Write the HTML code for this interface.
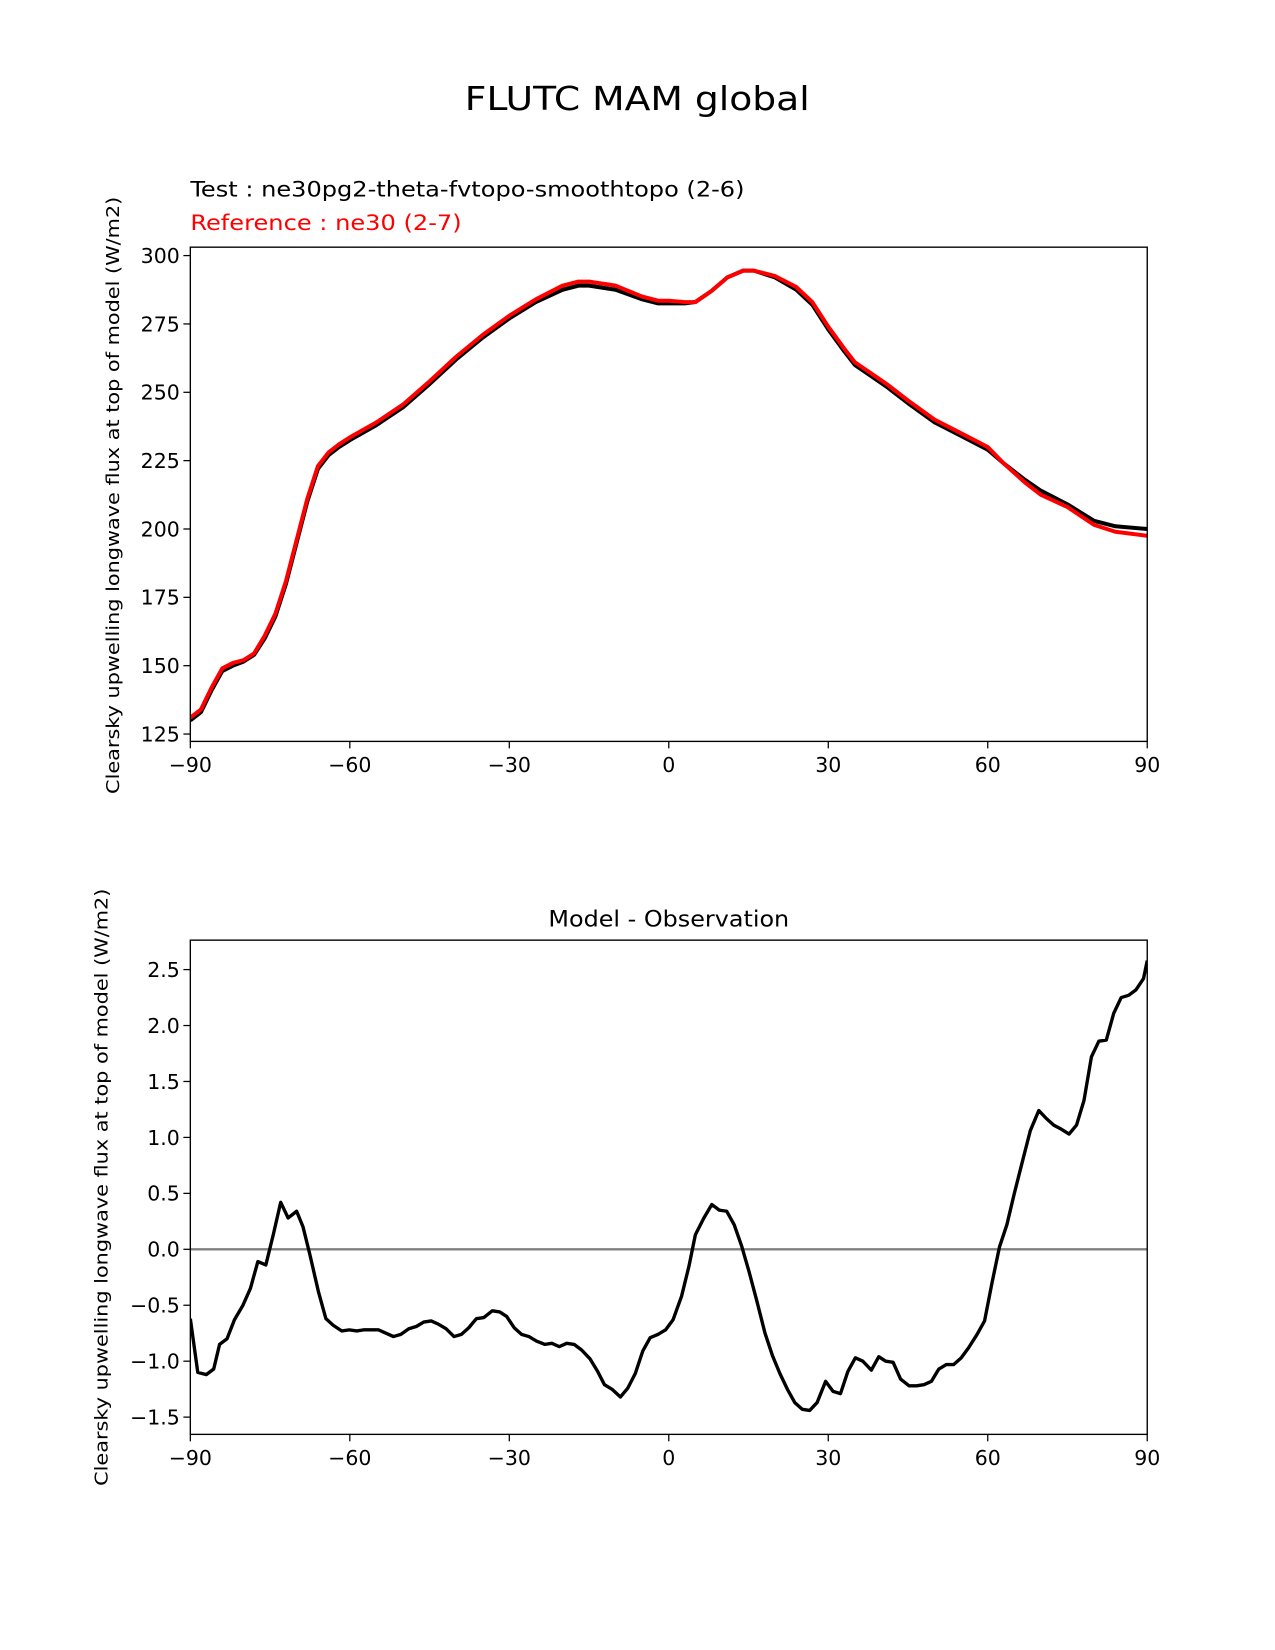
<!DOCTYPE html>
<html><head><meta charset="utf-8"><style>
html,body{margin:0;padding:0;background:#fff;}
svg{display:block;font-family:"DejaVu Sans","Liberation Sans",sans-serif;}
</style></head><body>
<svg id="fig" width="1275" height="1650" viewBox="0 0 1212.5 1569" xmlns="http://www.w3.org/2000/svg">
<rect width="1212.5" height="1569" fill="#fff"/>
<text x="606" y="104.6" font-size="31" text-anchor="middle" textLength="328" lengthAdjust="spacingAndGlyphs">FLUTC MAM global</text>
<text x="181" y="187" font-size="20" textLength="527" lengthAdjust="spacingAndGlyphs">Test : ne30pg2-theta-fvtopo-smoothtopo (2-6)</text>
<text x="181" y="218.7" font-size="20" fill="#ff0000" textLength="258" lengthAdjust="spacingAndGlyphs">Reference : ne30 (2-7)</text>
<text transform="translate(113,471) rotate(-90)" font-size="17" text-anchor="middle" textLength="568" lengthAdjust="spacingAndGlyphs">Clearsky upwelling longwave flux at top of model (W/m2)</text>
<text transform="translate(102,1129) rotate(-90)" font-size="17" text-anchor="middle" textLength="568" lengthAdjust="spacingAndGlyphs">Clearsky upwelling longwave flux at top of model (W/m2)</text>
<text x="636" y="881" font-size="21" text-anchor="middle" textLength="229" lengthAdjust="spacingAndGlyphs">Model - Observation</text>
<g id="top"></g>
<g id="bot"></g>
</svg>
<script>
const topLat = [-90,-88,-86,-84,-82,-80,-78,-76,-74,-72,-70,-68,-66,-64,-62,-60,-55,-50,-45,-40,-35,-30,-25,-20,-17,-15,-10,-5,-2,0,3,5,8,11,14,16,20,24,27,30,33,35,38,41,45,50,55,60,63,67,70,75,80,84,90];
const testVals = [130,133,141,148,150,151.5,154,160,168,180,195,210,222,227,230,232.5,238,244.5,253,262,270,277,283,287.5,289,289,287.5,284,282.5,282.5,282.5,283,287,292,294.5,294.5,292,287.5,282,273,265,260,256,252,246,239,234,229,224,218,214,209,203,201,200];
const refVals = [131,134,142,149,151,152,154.5,161,169,181,196,211,223,228,231,233.5,239,245.5,254,263,271,278,284,289,290.5,290.5,289,285,283.5,283.5,283,283,287,292,294.5,294.5,292.5,288.5,283,274,266,261,257,253,247,240,235,230,224,217,212.5,208,201.5,199,197.5];
const xTicks = [-90,-60,-30,0,30,60,90];
const topYTicks = [125,150,175,200,225,250,275,300];
const diffLat = [-90.0,-88.6,-87.0,-85.6,-84.5,-83.1,-81.7,-80.1,-78.7,-77.3,-75.8,-74.4,-73.0,-71.6,-70.0,-68.8,-67.5,-65.9,-64.5,-63.1,-61.5,-60.1,-58.7,-57.4,-54.6,-53.2,-51.8,-50.4,-48.9,-47.5,-46.1,-44.7,-43.3,-41.9,-40.4,-39.0,-37.6,-36.2,-34.8,-33.2,-31.8,-30.5,-29.1,-27.7,-26.3,-24.9,-23.3,-22.0,-20.6,-19.2,-17.8,-16.4,-14.8,-13.4,-12.1,-10.7,-9.1,-7.7,-6.3,-4.9,-3.5,-2.0,-0.6,0.8,2.4,3.8,5.0,6.6,8.1,9.5,10.9,12.3,13.7,15.1,16.5,18.1,19.5,20.9,22.3,23.7,25.1,26.5,27.9,29.5,30.9,32.3,33.7,35.1,36.5,38.1,39.5,40.8,42.2,43.6,45.2,46.6,48.0,49.4,50.8,52.2,53.6,55.0,56.4,58.0,59.4,60.8,62.2,63.6,65.0,66.6,68.0,69.6,71.0,72.4,73.6,75.3,76.7,78.1,79.5,80.9,82.3,83.7,85.1,86.5,87.9,89.3,90.0];
const diffVals = [-0.62,-1.1,-1.12,-1.07,-0.85,-0.8,-0.63,-0.5,-0.35,-0.11,-0.14,0.13,0.42,0.28,0.34,0.2,-0.05,-0.38,-0.62,-0.68,-0.73,-0.72,-0.73,-0.72,-0.72,-0.75,-0.78,-0.76,-0.71,-0.69,-0.65,-0.64,-0.67,-0.71,-0.78,-0.76,-0.7,-0.62,-0.61,-0.55,-0.56,-0.6,-0.7,-0.76,-0.78,-0.82,-0.85,-0.84,-0.87,-0.84,-0.85,-0.9,-0.98,-1.09,-1.21,-1.25,-1.32,-1.24,-1.11,-0.91,-0.79,-0.76,-0.72,-0.63,-0.42,-0.15,0.13,0.28,0.4,0.35,0.34,0.22,0.03,-0.2,-0.45,-0.75,-0.95,-1.11,-1.25,-1.37,-1.43,-1.44,-1.37,-1.18,-1.27,-1.29,-1.09,-0.97,-1.0,-1.08,-0.96,-1.0,-1.01,-1.16,-1.22,-1.22,-1.21,-1.18,-1.07,-1.03,-1.03,-0.97,-0.88,-0.76,-0.64,-0.3,0.02,0.22,0.5,0.8,1.06,1.24,1.17,1.11,1.08,1.03,1.11,1.33,1.72,1.86,1.87,2.11,2.25,2.27,2.32,2.42,2.58];
const botYTicks = [-1.5,-1.0,-0.5,0.0,0.5,1.0,1.5,2.0,2.5];
const botYLabels = ["\u22121.5","\u22121.0","\u22120.5","0.0","0.5","1.0","1.5","2.0","2.5"];

const NS='http://www.w3.org/2000/svg';
const L=181,R=1091;
function mk(parent,tag,attrs){const e=document.createElementNS(NS,tag);for(const k in attrs)e.setAttribute(k,attrs[k]);parent.appendChild(e);return e;}
function xs(v){return L+(v+90)/180*(R-L);}
function fmt(v){return v<0?'\u2212'+Math.abs(v):String(v);}

function panel(g,T,B,ys,yticks,ylabels,prefix){
  xTicks.forEach(t=>{
    const ln=mk(g,'line',{x1:xs(t),x2:xs(t),y1:B,y2:B+6.6,stroke:'#000','stroke-width':1.2});
    
    
    const tx=mk(g,'text',{x:xs(t),y:B+29,'font-size':19.5,'text-anchor':'middle'});
    tx.textContent=fmt(t);
    
    
  });
  yticks.forEach((t,i)=>{
    const y=ys(t);
    const ln=mk(g,'line',{x1:L-6.6,x2:L,y1:y,y2:y,stroke:'#000','stroke-width':1.2});
    
    
    const tx=mk(g,'text',{x:L-10,y:y+7,'font-size':19.5,'text-anchor':'end'});
    tx.textContent=ylabels[i];
    
    
  });
}
function line(g,lat,vals,ys,color,w,name){
  const d=lat.map((v,i)=>(i?'L':'M')+xs(v).toFixed(2)+','+ys(vals[i]).toFixed(2)).join('');
  const p=mk(g,'path',{d:d,fill:'none',stroke:color,'stroke-width':w,'stroke-linejoin':'round','stroke-linecap':'butt'});
  
  
}
const gt=document.getElementById('top');
const T1=235,B1=705;
const ys1=v=>243+(300-v)*2.6;
const clip1=mk(gt,'clipPath',{id:'c1'});mk(clip1,'rect',{x:L,y:T1,width:R-L,height:B1-T1});
const gl1=mk(gt,'g',{'clip-path':'url(#c1)'});
line(gl1,topLat,testVals,ys1,'#000',3.8,'test-line');
line(gl1,topLat,refVals,ys1,'#ff0000',3.8,'reference-line');
const f1=mk(gt,'rect',{x:L,y:T1,width:R-L,height:B1-T1,fill:'none',stroke:'#000','stroke-width':1.3});


panel(gt,T1,B1,ys1,topYTicks,topYTicks.map(String),'top');
const gb=document.getElementById('bot');
const T2=894,B2=1364;
const ys2=v=>1188-v*106.4;
const clip2=mk(gb,'clipPath',{id:'c2'});mk(clip2,'rect',{x:L,y:T2,width:R-L,height:B2-T2});
const gl2=mk(gb,'g',{'clip-path':'url(#c2)'});
const z=mk(gl2,'line',{x1:L,x2:R,y1:ys2(0),y2:ys2(0),stroke:'#808080','stroke-width':2.2});


line(gl2,diffLat,diffVals,ys2,'#000',3.2,'difference-line');
const f2=mk(gb,'rect',{x:L,y:T2,width:R-L,height:B2-T2,fill:'none',stroke:'#000','stroke-width':1.3});


panel(gb,T2,B2,ys2,botYTicks,botYLabels,'bottom');
</script>
</body></html>
